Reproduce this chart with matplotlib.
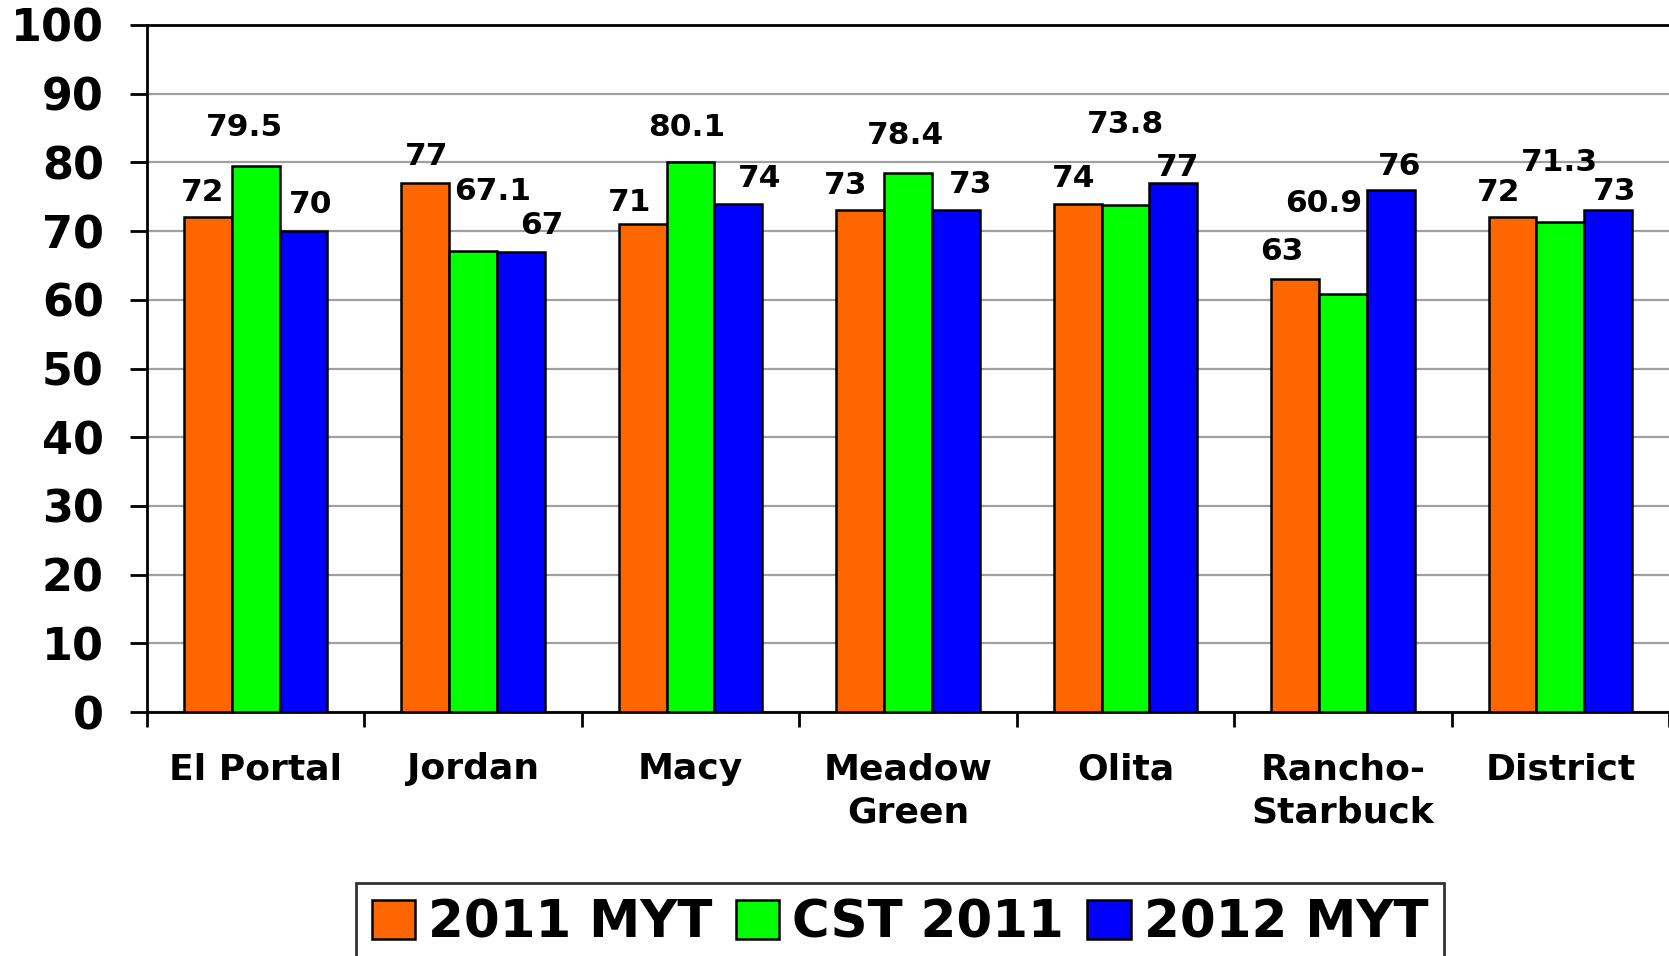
import matplotlib
matplotlib.use("Agg")
import matplotlib.pyplot as plt
import numpy as np

categories = ["El Portal", "Jordan", "Macy", "Meadow\nGreen", "Olita", "Rancho-\nStarbuck", "District"]
series_names = ["2011 MYT", "CST 2011", "2012 MYT"]
myt_2011 = [72, 77, 71, 73, 74, 63, 72]
cst_2011 = [79.5, 67.1, 80.1, 78.4, 73.8, 60.9, 71.3]
myt_2012 = [70, 67, 74, 73, 77, 76, 73]
label_text_2011 = ["72", "77", "71", "73", "74", "63", "72"]
label_text_cst = ["79.5", "67.1", "80.1", "78.4", "73.8", "60.9", "71.3"]
label_text_2012 = ["70", "67", "74", "73", "77", "76", "73"]
y_ticks = [0, 10, 20, 30, 40, 50, 60, 70, 80, 90, 100]

colors = ["#FF6600", "#00FF00", "#0000FF"]

# label placement offsets (pixels) for each series, per category
dx_px = [[-5, 1, -13, -15, -4, -13, -14],
         [-11, 19, -4, -3, 0, -19, -1],
         [7, 21, 21, 15, 4, 9, 7]]
dy_px = [[25, 27, 22, 25, 25, 28, 25],
         [38, 60, 34, 38, 80, 90, 60],
         [27, 26, 25, 26, 16, 23, 19]]

fig = plt.figure(figsize=(16.69, 9.56), dpi=100)
ax = fig.add_axes([147/1669, (956-712)/956, 1 - 147/1669, (712-25)/956])

x = np.arange(len(categories))
w = 0.22
series = [myt_2011, cst_2011, myt_2012]
texts = [label_text_2011, label_text_cst, label_text_2012]
for i, (vals, col) in enumerate(zip(series, colors)):
    pos = x + (i - 1) * w
    ax.bar(pos, vals, width=w, color=col, edgecolor="black", linewidth=1.8,
           label=series_names[i], zorder=3)
    for j, v in enumerate(vals):
        ax.annotate(texts[i][j], (pos[j], v), xytext=(dx_px[i][j], dy_px[i][j]),
                    textcoords="offset pixels", ha="center", va="center",
                    fontsize=22.5, fontweight="bold", family="DejaVu Sans", zorder=4)

ax.set_ylim(0, 100)
ax.set_xlim(-0.5, 6.48)
ax.set_yticks(y_ticks)
ax.set_yticklabels([str(t) for t in y_ticks], fontsize=32, fontweight="bold")
ax.tick_params(axis="y", direction="out", length=12, width=2, pad=19)
ax.yaxis.grid(True, color="#A0A0A0", linewidth=1.6, zorder=0)
ax.set_axisbelow(True)

ax.set_xticks(np.arange(-0.5, len(categories), 1.0))
ax.set_xticklabels([])
ax.tick_params(axis="x", which="major", direction="out", length=11, width=2)
ax.set_xticks(x, minor=True)
ax.set_xticklabels(categories, minor=True, fontsize=26, fontweight="bold", linespacing=1.35)
ax.tick_params(axis="x", which="minor", length=0, pad=29)

for s in ["left", "bottom", "top"]:
    ax.spines[s].set_linewidth(2)
    ax.spines[s].set_color("black")
ax.spines["right"].set_visible(False)

leg = fig.legend(loc="upper center", bbox_to_anchor=(900/1669, (956-883)/956), ncol=3,
                 prop={"family": "DejaVu Sans", "weight": "bold", "size": 37},
                 frameon=True, fancybox=False, edgecolor="black",
                 handlelength=0.85, handleheight=0.8, handletextpad=0.25,
                 columnspacing=0.45, borderpad=0.3, borderaxespad=0)
leg.get_frame().set_linewidth(2)

fig.savefig("out.png", dpi=100)
